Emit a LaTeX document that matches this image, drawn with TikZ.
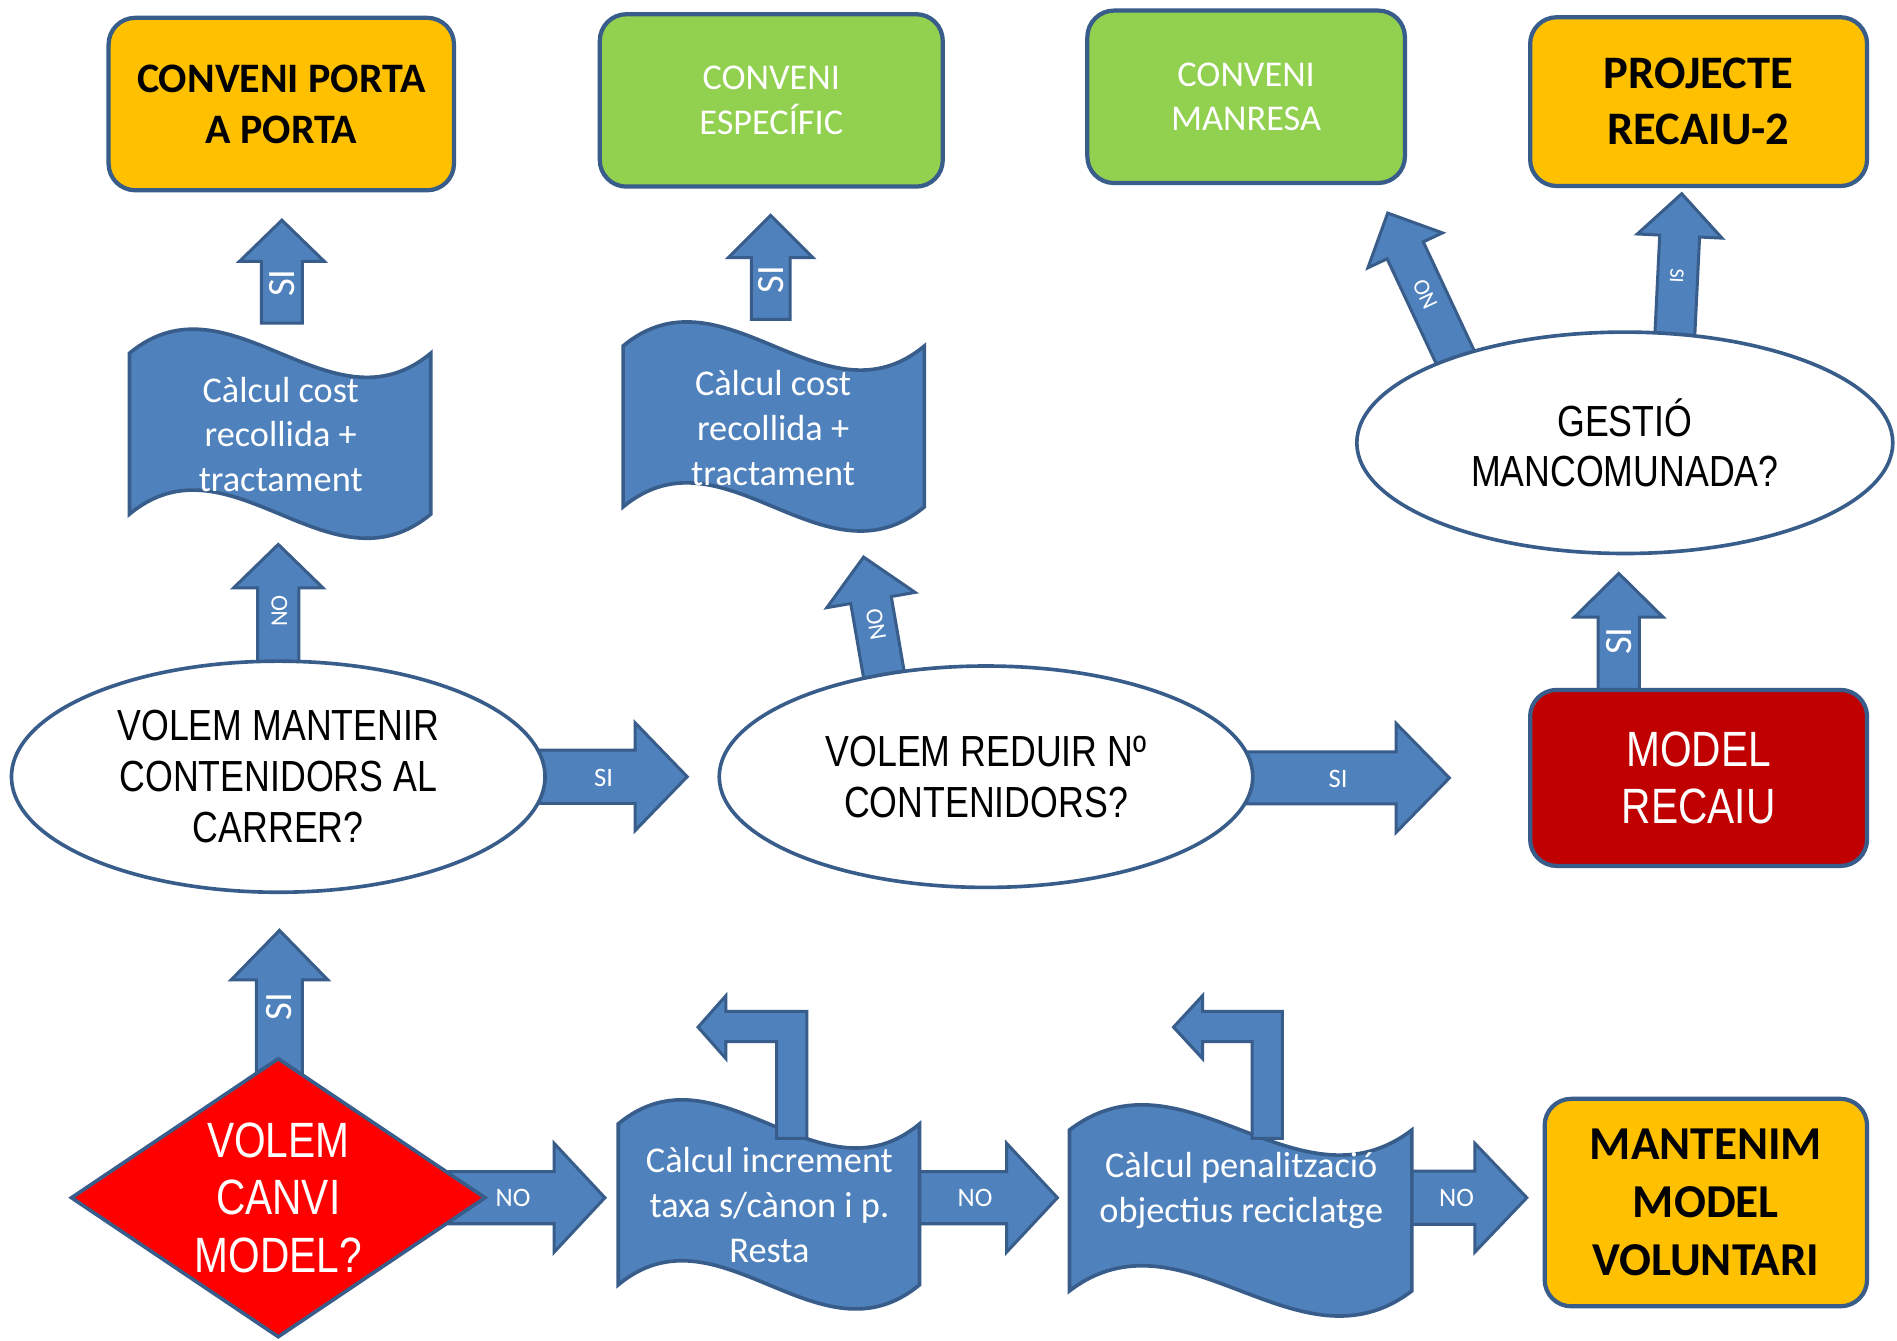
\documentclass[tikz,border=0pt]{standalone}
\usepackage{fontspec}
\setmainfont{Carlito}
\newfontfamily\narrowfont[FakeStretch=0.82]{Liberation Sans}
\usetikzlibrary{shapes.geometric}
\definecolor{edge}{HTML}{385D8A}
\definecolor{abl}{HTML}{4F81BD}
\definecolor{orng}{HTML}{FFC000}
\definecolor{grn}{HTML}{92D050}
\definecolor{dred}{HTML}{C00000}
\definecolor{rred}{HTML}{FF0000}
\newcommand{\arrowshape}[6]{%
  \begin{scope}[shift={#1},rotate=#2]
  \draw[blkarrow] (0,#5) -- ({#3-#4},#5) -- ({#3-#4},#6) -- (#3,0) -- ({#3-#4},-#6) -- ({#3-#4},-#5) -- (0,-#5) -- cycle;
  \end{scope}}
\newcommand{\wavedraw}[5]{%
  \draw[wavestyle] (#1,#3) .. controls ({#1+(#2-#1)/3},{#3-#5}) and ({#1+2*(#2-#1)/3},{#3+#5}) .. (#2,#3)
    -- (#2,#4) .. controls ({#1+2*(#2-#1)/3},{#4+#5}) and ({#1+(#2-#1)/3},{#4-#5}) .. (#1,#4) -- cycle;}
\tikzset{
  blkarrow/.style={draw=edge, fill=abl, line width=2.5pt, line join=miter},
  wavestyle/.style={draw=edge, fill=abl, line width=3pt},
  box/.style={draw=edge, line width=3.5pt, rounded corners=22pt, inner sep=0pt, align=center},
  ell/.style={ellipse, draw=edge, fill=white, line width=3pt, inner sep=0pt, align=center,
     font=\narrowfont\fontsize{36}{42}\selectfont},
  wtext/.style={text=white, align=center, font=\fontsize{30}{37}\selectfont},
  hlab/.style={text=white, font=\fontsize{22}{26}\selectfont},
  vlab/.style={text=white, font=\fontsize{32}{36}\selectfont, rotate=90},
  nlab/.style={text=white, font=\fontsize{20}{22}\selectfont},
}
\begin{document}
\begin{tikzpicture}[x=1pt,y=-1pt]
\useasboundingbox[fill=white] (0,0) rectangle (1568,1108);

% straight block arrows
\arrowshape{(233,267)}{90}{85}{34}{17}{35}
\arrowshape{(637,264)}{90}{86}{35}{16}{35}
\arrowshape{(230,555)}{90}{105}{36}{17}{37}
\arrowshape{(731,560)}{99.8}{101}{36}{17}{37}
\arrowshape{(1338,575)}{90}{101}{36}{17}{36.5}
\arrowshape{(231,895)}{90}{126}{41}{19}{40}
\arrowshape{(1206,302)}{115.1}{139}{34}{16.5}{34}
\arrowshape{(1384,284)}{87.2}{124}{35}{16.5}{35}
\arrowshape{(445,642)}{0}{123}{43}{22}{44.5}
\arrowshape{(1030,643)}{0}{168}{44}{21.5}{45}
\arrowshape{(371,990)}{0}{129}{42}{21.5}{45}
\arrowshape{(755,990)}{0}{119}{42}{21.5}{45}
\arrowshape{(1162,990)}{0}{100}{43}{22}{45}

% waves
\wavedraw{107}{356}{292}{425}{69}
\wavedraw{515}{764}{286}{419}{69}
\wavedraw{511}{760}{929}{1062}{69}
\wavedraw{884}{1167}{934}{1067}{72}

% bent arrows
\draw[blkarrow] (642,941) -- (642,861) -- (600,861) -- (600,875) -- (577,849) -- (600,823) -- (600,836) -- (667,836) -- (667,941) -- cycle;
\draw[blkarrow] (1035,941) -- (1035,861) -- (994,861) -- (994,875) -- (970,849) -- (994,823) -- (994,836) -- (1060,836) -- (1060,941) -- cycle;

% wave texts
\node[wtext] (w1) at (232,359) {Càlcul cost\\recollida +\\tractament};
\node[wtext] (w2) at (639,354) {Càlcul cost\\recollida +\\tractament};
\node[wtext] (w3) at (636,996) {Càlcul increment\\taxa s/cànon i p.\\Resta};
\node[wtext] (w4) at (1026,984) {Càlcul penalització\\objectius reciclatge};

% boxes
\node[box, fill=orng, minimum width=285.5, minimum height=142.5, font=\bfseries\fontsize{34.7}{42}\selectfont] (b1) at (232.5,86) {CONVENI PORTA\\A PORTA};
\node[box, fill=grn, text=white, minimum width=283.5, minimum height=142.5, font=\fontsize{30}{36.5}\selectfont] (b2) at (637.5,83) {CONVENI\\ESPECÍFIC};
\node[box, fill=grn, text=white, minimum width=262.5, minimum height=142.5, font=\fontsize{30}{36.5}\selectfont] (b3) at (1030,80) {CONVENI\\MANRESA};
\node[box, fill=orng, minimum width=278.5, minimum height=139.5, font=\bfseries\fontsize{38.5}{46}\selectfont] (b4) at (1404,84) {PROJECTE\\RECAIU-2};
\node[box, fill=dred, text=white, minimum width=278.5, minimum height=145.5, font=\narrowfont\fontsize{41}{47}\selectfont] (rb) at (1404,643) {MODEL\\RECAIU};
\node[box, fill=orng, minimum width=266.5, minimum height=171.5, font=\bfseries\fontsize{39}{48}\selectfont] (mb) at (1410,994) {MANTENIM\\MODEL\\VOLUNTARI};

% ellipses
\node[ell, minimum width=441, minimum height=191] (e1) at (230,642) {VOLEM MANTENIR\\CONTENIDORS AL\\CARRER?};
\node[ell, minimum width=441, minimum height=183] (e2) at (815,642) {VOLEM REDUIR Nº\\CONTENIDORS?};
\node[ell, minimum width=443, minimum height=183] (e3) at (1343,366) {GESTIÓ\\MANCOMUNADA?};

% diamond
\node[diamond, shape aspect=1.485, draw=edge, fill=rred, line width=3pt, inner sep=0pt, minimum width=343, minimum height=231,
  text=white, align=center, font=\narrowfont\fontsize{41}{47.5}\selectfont] (dm) at (230,990) {VOLEM\\CANVI\\MODEL?};

% arrow labels
\node[vlab] (lA1) at (233,234) {SI};
\node[vlab] (lA2) at (637,231) {SI};
\node[nlab, rotate=90] (lA3) at (231,505) {NO};
\node[nlab, rotate=99.8] (lA4) at (724,516) {NO};
\node[vlab] (lA5) at (1338,530) {SI};
\node[vlab] (lA6) at (231,832) {SI};
\node[nlab, font=\fontsize{19}{22}\selectfont, rotate=115.1] (lG1) at (1178,243) {NO};
\node[nlab, font=\fontsize{17}{20}\selectfont, rotate=-92.8] (lG2) at (1386,228) {SI};
\node[hlab] (lH1) at (499,643) {SI};
\node[hlab] (lH2) at (1106,644) {SI};
\node[hlab] (lH3) at (424,990) {NO};
\node[hlab] (lH4) at (806,990) {NO};
\node[hlab] (lH5) at (1204,990) {NO};
\end{tikzpicture}
\end{document}
